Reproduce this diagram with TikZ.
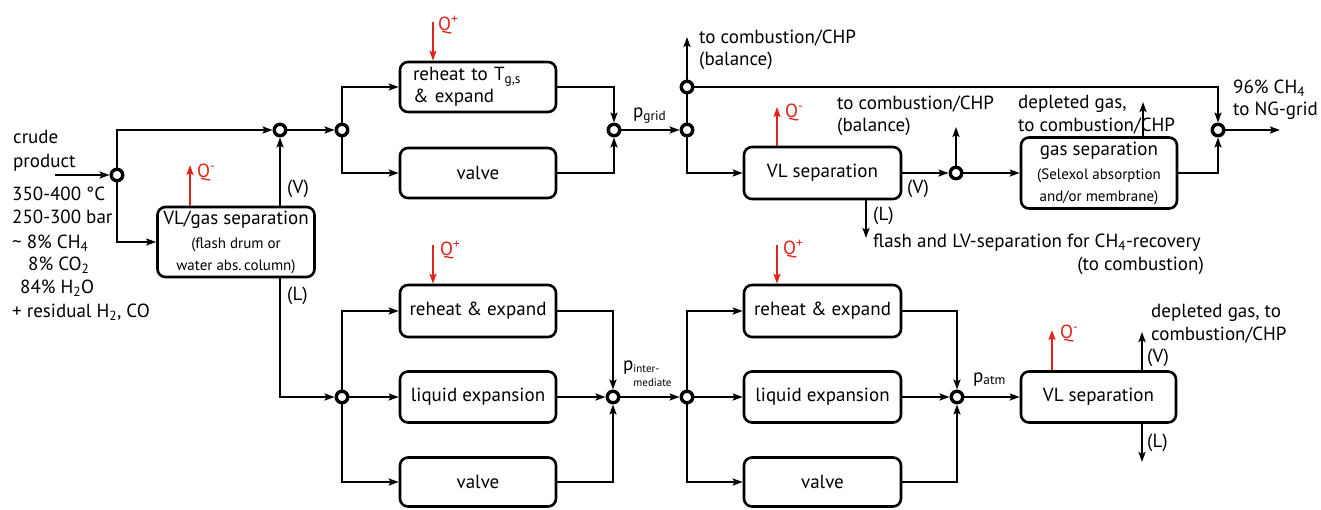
\documentclass[tikz,border=0pt]{standalone}
\usepackage{fontspec}
\setmainfont{PT Sans}
\usetikzlibrary{arrows.meta}
\definecolor{qred}{RGB}{226,35,26}
\newcommand{\bigfont}{\fontsize{19}{22}\selectfont}
\newcommand{\smallfont}{\fontsize{15}{19}\selectfont}
\tikzset{
  every node/.style={font=\bigfont, inner sep=0pt},
  box/.style={draw, line width=2.6pt, rounded corners=8pt, align=center},
  junc/.style={circle, draw, line width=3.4pt, fill=white, minimum size=11.5pt, inner sep=0pt},
  tip/.style={-{Stealth[length=10pt,width=7pt,inset=2pt]}},
  flow/.style={line width=2pt, tip},
  pipe/.style={line width=2pt},
  heat/.style={line width=2pt, qred, tip},
  lbl/.style={anchor=base west},
  qlbl/.style={anchor=base west, text=qred},
}
\begin{document}
\begin{tikzpicture}[x=1pt,y=-1pt]
\useasboundingbox (0,0) rectangle (1321,509);

% mixing / splitting points
\node[junc] (J0) at (117,175) {};
\node[junc] (J1) at (280,130) {};
\node[junc] (J2) at (342,130) {};
\node[junc] (J3) at (614,130) {};
\node[junc] (J4) at (687,130) {};
\node[junc] (J5) at (687,87) {};
\node[junc] (J7) at (956,173) {};
\node[junc] (J6) at (1218,130) {};
\node[junc] (B1) at (342,397) {};
\node[junc] (B2) at (613,397) {};
\node[junc] (B3) at (687,397) {};
\node[junc] (B4) at (957,397) {};

% process units
\node[box, minimum width=157, minimum height=70] (vlg) at (236,242)
  {VL/gas separation\\[2pt]{\smallfont (flash drum or}\\{\smallfont water abs.\,column)}};
\node[box, minimum width=156, minimum height=50, text width=130, align=left] (rh1) at (478,87)
  {reheat to T\textsubscript{g,s}\\\& expand};
\node[box, minimum width=156, minimum height=50] (va1) at (478,173) {valve};
\node[box, minimum width=157, minimum height=52] (vl1) at (822.5,173) {VL separation};
\node[box, minimum width=156, minimum height=71] (gs) at (1099,173)
  {gas separation\\[2pt]{\smallfont (Selexol absorption}\\{\smallfont and/or membrane)}};
\node[box, minimum width=156, minimum height=52] (rh2) at (478,311) {reheat \& expand};
\node[box, minimum width=156, minimum height=51] (le2) at (478,397) {liquid expansion};
\node[box, minimum width=156, minimum height=49] (va2) at (478,482) {valve};
\node[box, minimum width=157, minimum height=52] (rh3) at (822.5,311) {reheat \& expand};
\node[box, minimum width=157, minimum height=51] (le3) at (822.5,397) {liquid expansion};
\node[box, minimum width=157, minimum height=49] (va3) at (822.5,482) {valve};
\node[box, minimum width=155, minimum height=51] (vl3) at (1098.5,397) {VL separation};

% free ends of streams
\coordinate (feed) at (55,175);
\coordinate (bal1) at (687,37);
\coordinate (bal2) at (956,127);
\coordinate (ngrid) at (1280,130);
\coordinate (dep1) at (1143,102);
\coordinate (liq1) at (866,238);
\coordinate (dep3) at (1142,332);
\coordinate (liq3) at (1142,462);
\coordinate (q1) at (190,165);
\coordinate (q2) at (433,22);
\coordinate (q3) at (777,107);
\coordinate (q4) at (433,245);
\coordinate (q5) at (777,245);
\coordinate (q6) at (1052,330);

% high-pressure gas line
\draw[flow] (feed) -- (J0);
\draw[flow] (J0) |- (J1);
\draw[flow] (J0) |- (vlg.west);
\draw[flow] (vlg.north -| J1) -- (J1);
\draw[flow] (J1) -- (J2);
\draw[flow] (J2) |- (rh1.west);
\draw[flow] (J2) |- (va1.west);
\draw[flow] (rh1.east) -| (J3);
\draw[flow] (va1.east) -| (J3);
\draw[flow] (J3) -- (J4);
\draw[pipe] (J4) -- (J5);
\draw[flow] (J5) -- (bal1);
\draw[flow] (J5) -| (J6);
\draw[flow] (J4) |- (vl1.west);
\draw[flow] (vl1.east) -- (J7);
\draw[flow] (J7) -- (bal2);
\draw[flow] (J7) -- (gs.west);
\draw[flow] (gs.east) -| (J6);
\draw[flow] (J6) -- (ngrid);
\draw[flow] (gs.north -| dep1) -- (dep1);
\draw[flow] (vl1.south -| liq1) -- (liq1);

% liquid line
\draw[flow] (vlg.south -| J1) |- (B1);
\draw[flow] (B1) |- (rh2.west);
\draw[flow] (B1) -- (le2.west);
\draw[flow] (B1) |- (va2.west);
\draw[flow] (rh2.east) -| (B2);
\draw[flow] (le2.east) -- (B2);
\draw[flow] (va2.east) -| (B2);
\draw[flow] (B2) -- (B3);
\draw[flow] (B3) |- (rh3.west);
\draw[flow] (B3) -- (le3.west);
\draw[flow] (B3) |- (va3.west);
\draw[flow] (rh3.east) -| (B4);
\draw[flow] (le3.east) -- (B4);
\draw[flow] (va3.east) -| (B4);
\draw[flow] (B4) -- (vl3.west);
\draw[flow] (vl3.north -| dep3) -- (dep3);
\draw[flow] (vl3.south -| liq3) -- (liq3);

% heat duties
\draw[heat] (vlg.north -| q1) -- (q1);
\draw[heat] (q2) -- (rh1.north -| q2);
\draw[heat] (vl1.north -| q3) -- (q3);
\draw[heat] (q4) -- (rh2.north -| q4);
\draw[heat] (q5) -- (rh3.north -| q5);
\draw[heat] (vl3.north -| q6) -- (q6);

% feed description
\node[lbl] (t1) at (13,143) {crude};
\node[lbl] (t2) at (13,167) {product};
\node[lbl] (t3) at (12,200) {350-400 °C};
\node[lbl] (t4) at (12,223) {250-300 bar};
\node[lbl] (t5) at (12,248) {\textasciitilde{} 8\% CH\textsubscript{4}};
\node[lbl] (t6) at (28,270) {8\% CO\textsubscript{2}};
\node[lbl] (t7) at (20,293) {84\% H\textsubscript{2}O};
\node[lbl] (t8) at (12,317) {+ residual H\textsubscript{2}, CO};

% stream labels
\node[qlbl] (lq1) at (197,177) {Q\textsuperscript{-}};
\node[lbl] (lv1) at (287,193) {(V)};
\node[lbl] (ll1) at (287,300) {(L)};
\node[qlbl] (lq2) at (438,30) {Q\textsuperscript{+}};
\node[lbl] (pg) at (633,117) {p\textsubscript{grid}};
\node[lbl] (c1a) at (699,43) {to combustion/CHP};
\node[lbl] (c1b) at (699,65) {(balance)};
\node[qlbl] (lq3) at (785,117) {Q\textsuperscript{-}};
\node[lbl] (c2a) at (837,109) {to combustion/CHP};
\node[lbl] (c2b) at (837,131) {(balance)};
\node[lbl] (d1a) at (1018,108) {depleted gas,};
\node[lbl] (d1b) at (1018,131) {to combustion/CHP};
\node[lbl] (ng1) at (1233,93) {96\% CH\textsubscript{4}};
\node[lbl] (ng2) at (1233,115) {to NG-grid};
\node[lbl] (lv2) at (907,193) {(V)};
\node[lbl] (ll2) at (873,220) {(L)};
\node[lbl] (fl1) at (873,247) {flash and LV-separation for CH\textsubscript{4}-recovery};
\node[anchor=base east] (fl2) at (1204,270) {(to combustion)};
\node[qlbl] (lq4) at (440,255) {Q\textsuperscript{+}};
\node[qlbl] (lq5) at (783,254) {Q\textsuperscript{+}};
\node[lbl] (pi) at (623,370) {p\raisebox{-2pt}{\fontsize{11}{14}\selectfont\begin{tabular}[t]{@{}l@{}}inter-\\mediate\end{tabular}}};
\node[lbl] (pa) at (973,382) {p\textsubscript{atm}};
\node[qlbl] (lq6) at (1060,338) {Q\textsuperscript{-}};
\node[lbl] (d3a) at (1151,317) {depleted gas, to};
\node[lbl] (d3b) at (1151,340) {combustion/CHP};
\node[lbl] (lv3) at (1147,362) {(V)};
\node[lbl] (ll3) at (1147,447) {(L)};
\end{tikzpicture}
\end{document}
